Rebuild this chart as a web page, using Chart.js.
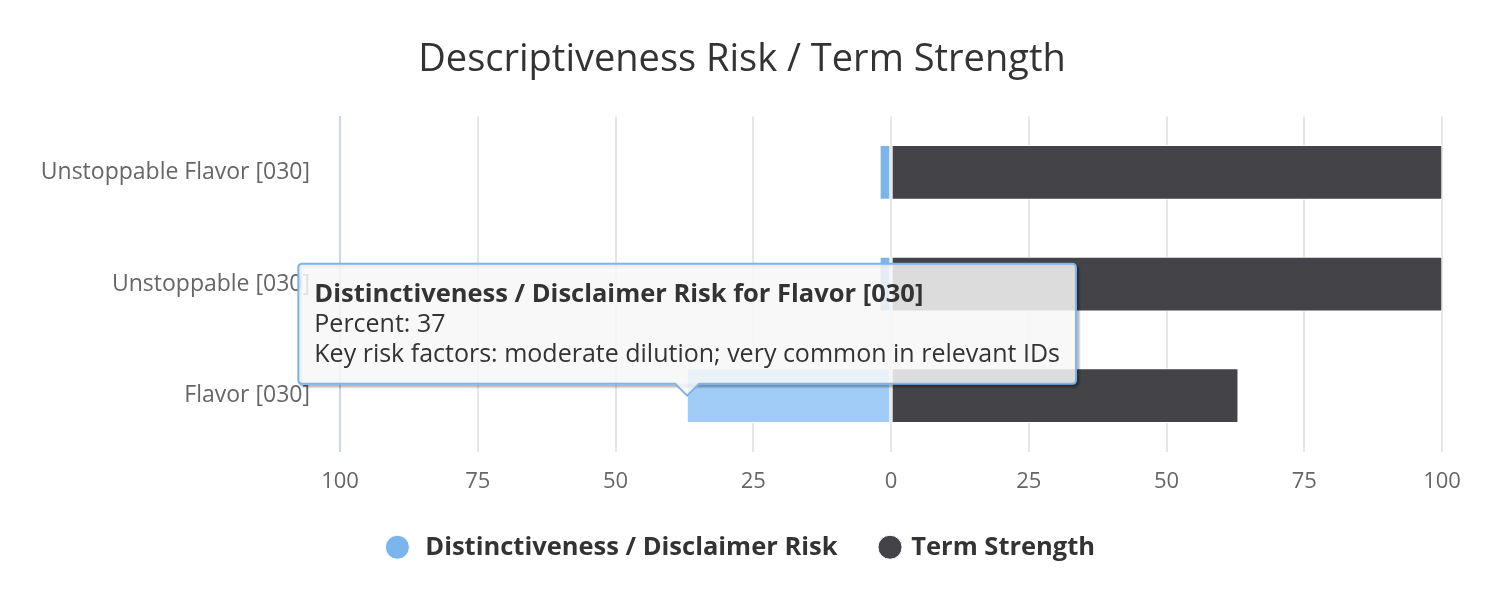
<!DOCTYPE html>
<html>
<head>
<meta charset="utf-8">
<script src="https://cdn.jsdelivr.net/npm/chart.js@4.4.1/dist/chart.umd.min.js"></script>
<style>
  html, body { margin: 0; background: #fff; }
  #wrap { position: relative; width: 1496px; height: 596px; }
</style>
</head>
<body>
<div id="wrap"><canvas id="chart"></canvas></div>
<script>
const categories = ["Unstoppable Flavor [030]", "Unstoppable [030]", "Flavor [030]"];
const riskValues = [2, 2, 37];
const strengthValues = [100, 100, 63];
const riskFactors = ["", "", "moderate dilution; very common in relevant IDs"];

const FONT = "'Open Sans', 'DejaVu Sans', sans-serif";

// caret sits on the end of the bar, not its middle
Chart.Tooltip.positioners.barEnd = (items) => {
  if (!items.length) return false;
  const el = items[0].element;
  return { x: el.x, y: el.y };
};

// soft shadow under the tooltip box
const tooltipShadow = {
  id: "tooltipShadow",
  beforeTooltipDraw(chart, args) {
    const t = args.tooltip;
    if (!t.opacity) return;
    const ctx = chart.ctx;
    ctx.save();
    [[6, 0.05], [4, 0.1], [2, 0.15]].forEach(([w, a]) => {
      ctx.strokeStyle = `rgba(0,0,0,${a})`;
      ctx.lineWidth = w;
      ctx.beginPath();
      ctx.roundRect(t.x + 2, t.y + 2, t.width, t.height, 4);
      ctx.stroke();
    });
    ctx.restore();
  },
};

const chart = new Chart(document.getElementById("chart"), {
  type: "bar",
  data: {
    labels: categories,
    datasets: [
      {
        label: "Distinctiveness / Disclaimer Risk",
        data: riskValues.map((v) => -v),
        backgroundColor: "#7cb5ec",
        hoverBackgroundColor: "#a0ccf7",
        borderColor: "#ffffff",
        hoverBorderColor: "#ffffff",
        borderWidth: 1,
        borderSkipped: false,
        barThickness: 54,
      },
      {
        label: "Term Strength",
        data: strengthValues,
        backgroundColor: "#434348",
        borderColor: "#ffffff",
        borderWidth: 1,
        borderSkipped: false,
        barThickness: 54,
      },
    ],
  },
  plugins: [tooltipShadow],
  options: {
    indexAxis: "y",
    responsive: true,
    maintainAspectRatio: false,
    devicePixelRatio: 1,
    animation: false,
    events: [],
    layout: { padding: { left: 42, right: 54, top: 0, bottom: 26 } },
    scales: {
      x: {
        stacked: true,
        min: -100,
        max: 100,
        ticks: {
          stepSize: 25,
          color: "#666666",
          font: { family: FONT, size: 22 },
          padding: 17,
          callback: (v) => Math.abs(v),
        },
        grid: { color: "#e6e6e6", lineWidth: 2, drawTicks: false },
        border: { display: false },
        afterFit: (s) => { s.height = 39; },
      },
      y: {
        stacked: true,
        ticks: {
          color: "#666666",
          font: { family: FONT, size: 23 },
          padding: 30,
        },
        grid: { display: false, drawTicks: false },
        border: { display: true, color: "#ccd6eb", width: 2 },
        afterFit: (s) => { s.width = 298; },
      },
    },
    plugins: {
      title: {
        display: true,
        text: "Descriptiveness Risk / Term Strength",
        color: "#333333",
        font: { family: FONT, size: 38, weight: "normal", lineHeight: 1.2 },
        padding: { top: 37, bottom: 34 },
      },
      legend: {
        position: "bottom",
        labels: {
          usePointStyle: true,
          pointStyle: "circle",
          boxWidth: 17,
          boxHeight: 17,
          color: "#333333",
          font: { family: FONT, size: 25.5, weight: "bold" },
          padding: 44,
          // a little extra room between marker and text, as in the original
          generateLabels: (c) =>
            Chart.defaults.plugins.legend.labels.generateLabels(c).map((l, i) =>
              i === 0 ? { ...l, text: " " + l.text } : l),
        },
      },
      tooltip: {
        position: "barEnd",
        xAlign: "center",
        yAlign: "bottom",
        caretSize: 12,
        caretPadding: 0,
        cornerRadius: 4,
        backgroundColor: "rgba(247,247,247,0.85)",
        borderColor: "#7cb5ec",
        borderWidth: 2,
        titleColor: "#333333",
        bodyColor: "#333333",
        titleFont: { family: FONT, size: 25.5, weight: "bold", lineHeight: 30 / 25.5 },
        bodyFont: { family: FONT, size: 25, lineHeight: 1.2 },
        titleMarginBottom: 0,
        bodySpacing: 0,
        padding: { top: 16, bottom: 14, left: 16, right: 16 },
        displayColors: false,
        callbacks: {
          title: (items) => `${items[0].dataset.label} for ${categories[items[0].dataIndex]}`,
          label: (item) => [
            `Percent: ${Math.abs(item.raw)}`,
            `Key risk factors: ${riskFactors[item.dataIndex]}`,
          ],
        },
      },
    },
  },
});

const active = [{ datasetIndex: 0, index: 2 }];
chart.setActiveElements(active);
chart.tooltip.setActiveElements(active, { x: 0, y: 0 });
chart.update("none");
</script>
</body>
</html>
